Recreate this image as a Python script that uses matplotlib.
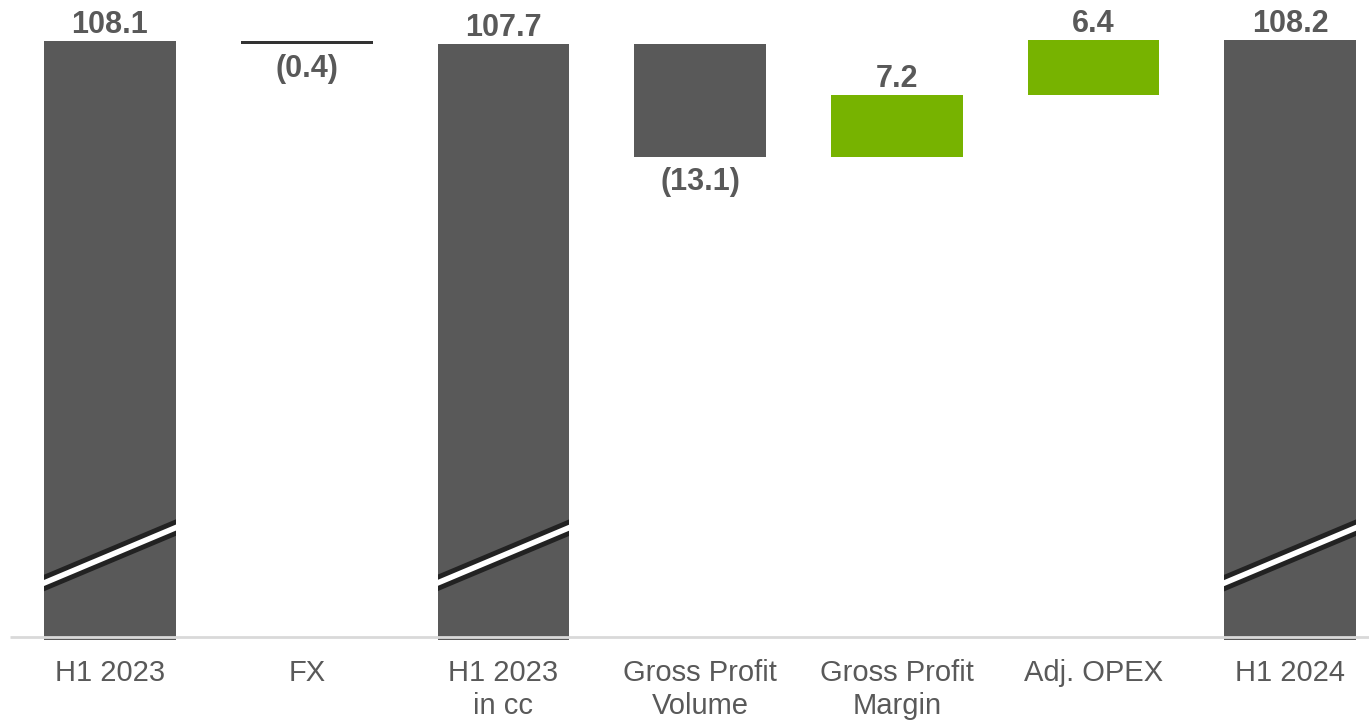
import matplotlib.pyplot as plt
import numpy as np

plt.rcParams["font.family"] = ["Liberation Sans", "DejaVu Sans"]

categories = ["H1 2023", "FX", "H1 2023\nin cc", "Gross Profit\nVolume", "Gross Profit\nMargin", "Adj. OPEX", "H1 2024"]
values = [108.1, -0.4, 107.7, -13.1, 7.2, 6.4, 108.2]
is_total = [True, False, True, False, False, False, True]
labels = ["108.1", "(0.4)", "107.7", "(13.1)", "7.2", "6.4", "108.2"]

AXIS_MIN = 38.8
GREY = "#595959"
GREEN = "#77b300"
TEXT = "#595959"

fig = plt.figure(figsize=(13.69, 7.21), dpi=100)
ax = fig.add_axes([0, 1 - 640 / 721, 1, 640 / 721])

x = np.arange(len(categories))
width = 0.67
running = 0.0
for i, (v, tot) in enumerate(zip(values, is_total)):
    if tot:
        bottom, top = AXIS_MIN - 0.35, v
        running = v
        color = GREY
    else:
        start = running
        running = running + v
        bottom, top = min(start, running), max(start, running)
        if i == 1:
            color = "#333333"
        elif v < 0:
            color = GREY
        else:
            color = GREEN
    bars = ax.bar(x[i], top - bottom, bottom=bottom, width=width, color=color, zorder=2)

    if v >= 0 or tot:
        ax.annotate(labels[i], (x[i], top), xytext=(0, 1), textcoords="offset points",
                    ha="center", va="bottom", fontsize=22, fontweight="bold", color=TEXT)
    else:
        ax.annotate(labels[i], (x[i], bottom), xytext=(0, -7), textcoords="offset points",
                    ha="center", va="top", fontsize=22, fontweight="bold", color=TEXT)

    # axis break marks on the total bars
    if tot:
        bx = [x[i] - width / 2 - 0.05, x[i] + width / 2 + 0.05]
        by = [AXIS_MIN + 5.8, AXIS_MIN + 13.2]
        dark, = ax.plot(bx, by, color="#222222", lw=11, solid_capstyle="butt", zorder=3)
        light, = ax.plot(bx, by, color="white", lw=4, solid_capstyle="butt", zorder=4)
        dark.set_clip_path(bars[0])
        light.set_clip_path(bars[0])

ax.hlines(AXIS_MIN, -0.51, 6.5, color="#d9d9d9", lw=2, zorder=5)

ax.set_xlim(-0.559, 6.40)
ax.set_ylim(AXIS_MIN - 0.35, 112.87)
ax.set_xticks(x)
ax.set_xticklabels(categories, fontsize=21, color=TEXT, linespacing=1.22)
ax.tick_params(axis="x", length=0, pad=14)
ax.set_yticks([])
for s in ax.spines.values():
    s.set_visible(False)

fig.savefig("out.png", dpi=100)
